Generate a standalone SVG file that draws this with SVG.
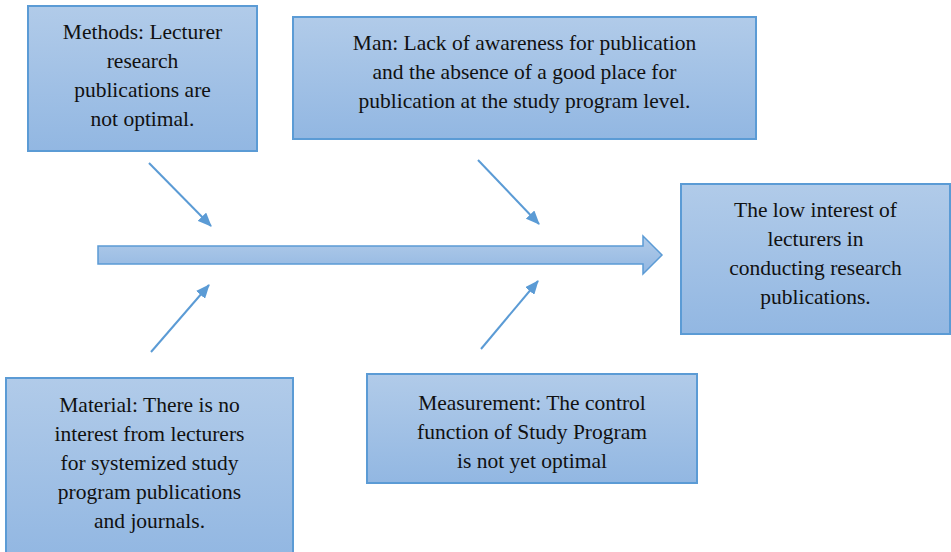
<svg xmlns="http://www.w3.org/2000/svg" width="951" height="552" viewBox="0 0 951 552">
<defs>
<linearGradient id="g" x1="0" y1="0" x2="0" y2="1">
<stop offset="0" stop-color="#b1cbe9"/>
<stop offset="1" stop-color="#92b7e2"/>
</linearGradient>
<marker id="ah" viewBox="0 0 14 12" refX="13" refY="6" markerWidth="14" markerHeight="12" markerUnits="userSpaceOnUse" orient="auto">
<path d="M0,0 L14,6 L0,12 z" fill="#5b9bd5"/>
</marker>
<style>
.box{fill:url(#g);stroke:#5b9bd5;stroke-width:2}
.c{stroke:#5b9bd5;stroke-width:2;fill:none}
</style>
</defs>
<rect width="951" height="552" fill="#fff"/>
<g id="connectors">
<path d="M98,246 H643 V236 L662,255 L643,274 V264 H98 Z" fill="url(#g)" stroke="#5b9bd5" stroke-width="1.5"/>
<line class="c" x1="149" y1="163" x2="211" y2="226" marker-end="url(#ah)"/>
<line class="c" x1="478" y1="160" x2="539" y2="224" marker-end="url(#ah)"/>
<line class="c" x1="151" y1="352" x2="209" y2="285" marker-end="url(#ah)"/>
<line class="c" x1="481" y1="349" x2="538" y2="281" marker-end="url(#ah)"/>
</g>
<g font-family="'Liberation Serif', 'DejaVu Serif', serif" font-size="21.5" fill="#111" text-anchor="middle">
<g id="methods">
<rect class="box" x="28" y="6" width="229" height="145"/>
<text x="142.5" y="39">Methods: Lecturer</text>
<text x="142.5" y="68">research</text>
<text x="142.5" y="97">publications are</text>
<text x="142.5" y="126">not optimal.</text>
</g>
<g id="man">
<rect class="box" x="293" y="17" width="463" height="122"/>
<text x="524.5" y="50">Man: Lack of awareness for publication</text>
<text x="524.5" y="79">and the absence of a good place for</text>
<text x="524.5" y="108">publication at the study program level.</text>
</g>
<g id="result">
<rect class="box" x="681" y="184" width="269" height="150"/>
<text x="815.5" y="217">The low interest of</text>
<text x="815.5" y="246">lecturers in</text>
<text x="815.5" y="275">conducting research</text>
<text x="815.5" y="304">publications.</text>
</g>
<g id="material">
<rect class="box" x="6" y="378" width="287" height="180"/>
<text x="149.5" y="412">Material: There is no</text>
<text x="149.5" y="441">interest from lecturers</text>
<text x="149.5" y="470">for systemized study</text>
<text x="149.5" y="499">program publications</text>
<text x="149.5" y="528">and journals.</text>
</g>
<g id="measurement">
<rect class="box" x="367" y="374" width="330" height="109"/>
<text x="532" y="410">Measurement: The control</text>
<text x="532" y="439">function of Study Program</text>
<text x="532" y="468">is not yet optimal</text>
</g>
</g>
</svg>
